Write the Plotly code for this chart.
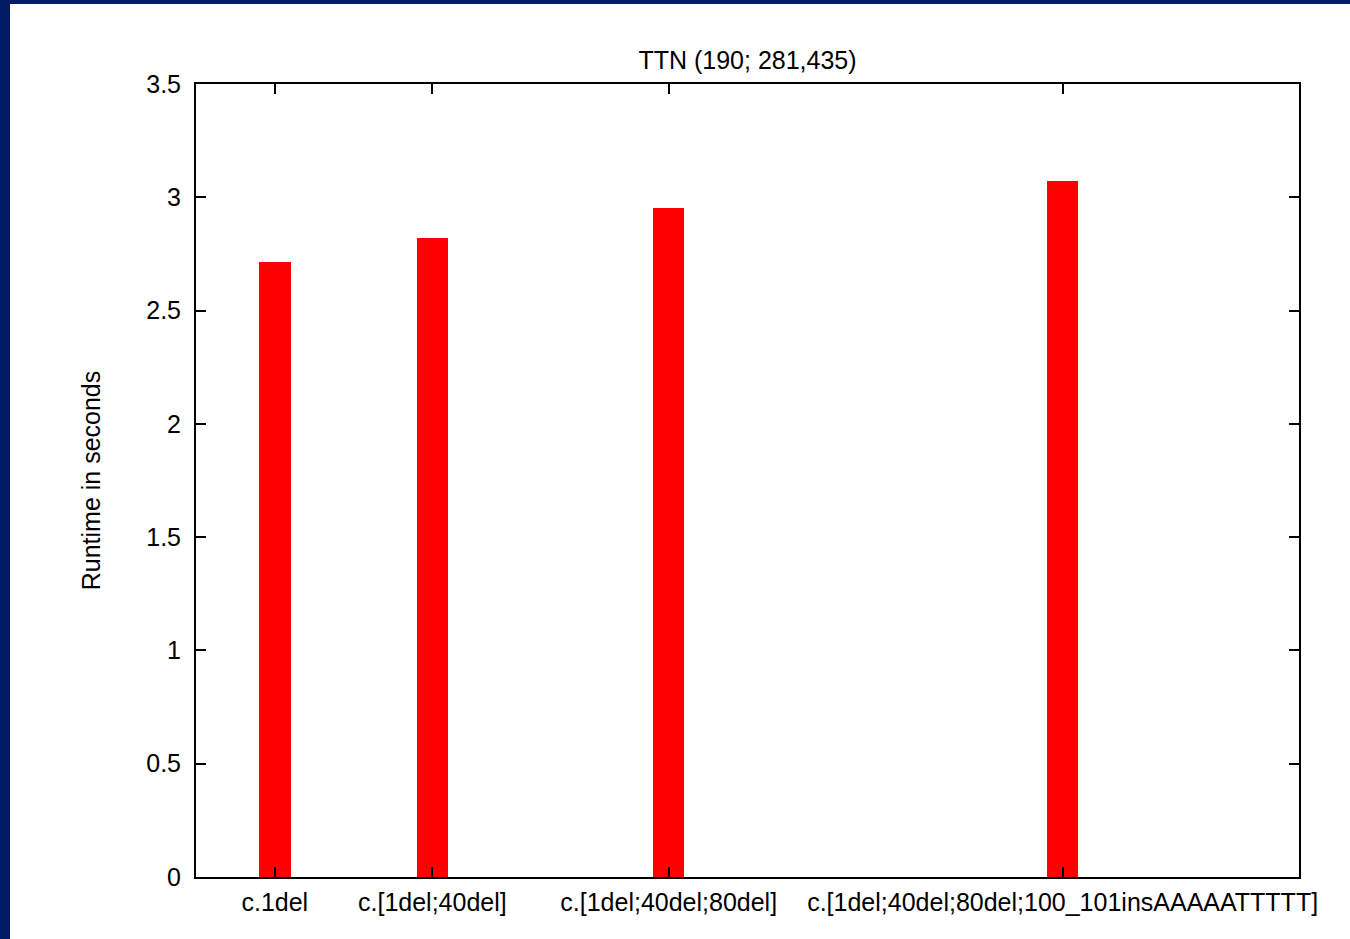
import plotly.graph_objects as go

# Data
categories = ["c.1del", "c.[1del;40del]", "c.[1del;40del;80del]",
              "c.[1del;40del;80del;100_101insAAAAATTTTT]"]
positions = [1, 3, 6, 11]
runtimes = [2.714, 2.821, 2.954, 3.074]
y_ticks = [0, 0.5, 1, 1.5, 2, 2.5, 3, 3.5]
y_tick_labels = ["0", "0.5", "1", "1.5", "2", "2.5", "3", "3.5"]

W, H = 1350, 939
L, R, T, B = 196, 1299, 84, 877
FONT = "Liberation Sans, Arial, Helvetica, sans-serif"
NAVY = "#001c62"

fig = go.Figure()
fig.add_trace(go.Bar(
    x=positions, y=runtimes, width=0.4,
    marker=dict(color="#ff0000", line=dict(width=0)),
    showlegend=False,
))

pw, ph = R - L, B - T
def px_x(p):
    return (p - L) / pw
def px_y(p):
    return (B - p) / ph

fig.update_layout(
    width=W, height=H,
    margin=dict(l=L, r=W - R, t=T, b=H - B, pad=0),
    paper_bgcolor="white", plot_bgcolor="white",
    font=dict(family=FONT, size=25, color="black"),
    title=dict(text="TTN (190; 281,435)", x=((L + R) / 2) / W, xanchor="center",
               y=1 - 60 / H, yanchor="middle", yref="container",
               font=dict(family=FONT, size=25, color="black")),
    xaxis=dict(range=[0, 14], tickmode="array", tickvals=positions, ticktext=categories,
               showgrid=False, zeroline=False, showline=True, linecolor="black", linewidth=2,
               mirror="ticks", ticks="inside", ticklen=10, tickwidth=1.5, tickcolor="black",
               ticklabelstandoff=2,
               tickfont=dict(family=FONT, size=25, color="black")),
    yaxis=dict(range=[0, 3.5], tickmode="array", tickvals=y_ticks, ticktext=y_tick_labels,
               showgrid=False, zeroline=False, showline=True, linecolor="black", linewidth=2,
               mirror="ticks", ticks="inside", ticklen=10, tickwidth=1.5, tickcolor="black",
               ticklabelstandoff=8,
               tickfont=dict(family=FONT, size=25, color="black"),
               title=dict(text="Runtime in seconds", standoff=38,
                          font=dict(family=FONT, size=25, color="black"))),
    bargap=0,
)

# navy frame strips (left and top) of the surrounding page
fig.add_shape(type="rect", xref="paper", yref="paper",
              x0=px_x(0), x1=px_x(10), y0=px_y(H), y1=px_y(0),
              fillcolor=NAVY, line=dict(width=0), layer="below")
fig.add_shape(type="rect", xref="paper", yref="paper",
              x0=px_x(0), x1=px_x(W), y0=px_y(4), y1=px_y(0),
              fillcolor=NAVY, line=dict(width=0), layer="below")

fig.write_html("out.html", config={"displayModeBar": False},
               post_script="document.body.style.margin='0px';")
